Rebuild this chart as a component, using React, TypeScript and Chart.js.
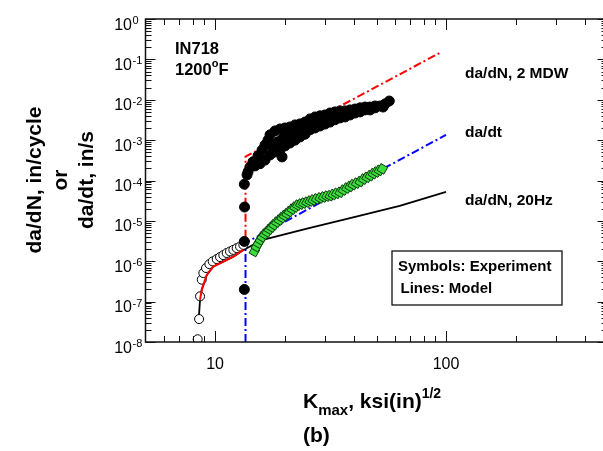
import React, { useEffect, useRef } from "react";
import { Chart, registerables } from "chart.js";
Chart.register(...registerables);

// ---- axis ranges and ticks ----
const X_MIN = 5;
const X_MAX = 500;
const Y_MIN = 1e-8;
const Y_MAX = 1;
const xMajorTicks = [10, 100];
const xMajorLabels = ["10", "100"];
const xMinorTicks = [6, 7, 8, 9, 20, 30, 40, 50, 60, 70, 80, 90, 200, 300, 400];
const yExponents = [0, -1, -2, -3, -4, -5, -6, -7, -8];

// ---- experiment: da/dN at 20 Hz (open circles) ----
const kmax20HzExp = [8.41, 8.53, 8.61, 8.76, 8.9, 9.14, 9.45, 9.77, 10.17, 10.51, 10.86, 11.23, 11.61, 12.0, 12.41, 12.83, 13.26];
const dadN20HzExp = [1.17e-8, 3.7e-8, 1.35e-7, 3.5e-7, 5.1e-7, 6.8e-7, 8.5e-7, 9.9e-7, 1.13e-6, 1.27e-6, 1.42e-6, 1.6e-6, 1.75e-6, 1.91e-6, 2.11e-6, 2.31e-6, 2.55e-6];

// ---- experiment: da/dN, 2 MDW (filled black circles) ----
const kmax2MDWExp = [
  13.39, 13.39, 13.42, 13.39, 13.9, 13.76, 14.18, 14.6, 14.9, 15.35, 15.66, 15.98, 16.46, 16.46, 16.96,
  17.3, 17.3, 17.82, 18.18, 18.18, 18.74, 19.11, 19.11, 19.5, 19.7, 20.09, 20.09, 20.7, 21.12, 21.12,
  21.76, 22.2, 22.2, 22.9, 23.33, 23.33, 24.04, 24.53, 24.53, 25.27, 25.78, 25.78, 26.56, 27.1, 27.1,
  27.92, 28.48, 28.48, 29.35, 29.94, 29.94, 30.84, 31.47, 31.47, 32.42, 33.08, 33.08, 34.07, 34.77, 34.77,
  36.55, 36.55, 37.65, 38.42, 38.42, 40.38, 40.38, 42.45, 42.45, 44.62, 44.62, 46.9, 46.9, 49.3, 49.3,
  51.8, 53.4, 54.5, 56.8,
];
const dadN2MDWExp = [
  2.0e-7, 3.1e-6, 2.2e-5, 8.1e-5, 1.66e-4, 1.38e-4, 2.17e-4, 2.9e-4, 2.3e-4, 4.1e-4, 2.6e-4, 5.7e-4, 3.2e-4, 7.6e-4, 1.0e-3,
  4.3e-4, 1.35e-3, 6.4e-4, 1.69e-3, 5.1e-4, 9.1e-4, 1.89e-3, 5.7e-4, 3.84e-4, 1.12e-3, 2.0e-3, 7.2e-4, 1.34e-3, 2.12e-3, 8.5e-4,
  1.6e-3, 2.38e-3, 1.0e-3, 1.8e-3, 2.52e-3, 1.2e-3, 1.89e-3, 2.8e-3, 1.4e-3, 2.12e-3, 3.35e-3, 1.8e-3, 2.5e-3, 3.75e-3, 2.0e-3,
  3.0e-3, 4.0e-3, 2.24e-3, 3.2e-3, 4.2e-3, 2.5e-3, 3.35e-3, 4.7e-3, 2.8e-3, 3.75e-3, 5.0e-3, 3.2e-3, 4.0e-3, 5.3e-3, 3.55e-3,
  5.3e-3, 3.75e-3, 4.7e-3, 5.6e-3, 4.2e-3, 5.9e-3, 4.7e-3, 6.3e-3, 5.0e-3, 6.6e-3, 5.6e-3, 6.6e-3, 5.6e-3, 7.0e-3, 6.3e-3,
  7.0e-3, 6.6e-3, 7.9e-3, 9.3e-3,
];

// ---- experiment: da/dt (green squares) ----
const kmaxDadtExp = [
  14.8, 15.1, 15.4, 15.7, 16.0, 16.4, 16.8, 17.2, 17.6, 18.0, 18.5, 19.0, 19.5, 20.0, 20.5,
  21.0, 21.6, 22.2, 22.8, 23.5, 24.2, 25.0, 25.8, 26.6, 27.5, 28.5, 29.5, 30.5, 31.5, 32.5,
  33.6, 34.8, 36.0, 37.2, 38.4, 39.6, 41.0, 42.5, 44.0, 45.5, 47.0, 48.5, 50.0, 51.5, 53.0,
];
const dadtExp = [
  1.74e-6, 2.3e-6, 2.8e-6, 3.4e-6, 4.0e-6, 4.7e-6, 5.3e-6, 6.2e-6, 7.0e-6, 8.0e-6, 9.3e-6, 1.05e-5, 1.2e-5, 1.35e-5, 1.5e-5,
  1.7e-5, 1.95e-5, 2.2e-5, 2.45e-5, 2.6e-5, 2.75e-5, 2.9e-5, 3.1e-5, 3.3e-5, 3.5e-5, 3.7e-5, 3.9e-5, 4.1e-5, 4.2e-5, 4.5e-5,
  4.8e-5, 5.1e-5, 5.8e-5, 6.5e-5, 7.1e-5, 7.9e-5, 8.6e-5, 9.4e-5, 1.08e-4, 1.2e-4, 1.32e-4, 1.48e-4, 1.62e-4, 1.78e-4, 1.94e-4,
];

// ---- model lines ----
const kmax20HzModel = [8.5, 8.61, 8.76, 9.2, 9.83, 10.86, 12.0, 13.26, 16.1, 25, 40, 63, 100];
const dadN20HzModel = [3.7e-8, 1.1e-7, 1.96e-7, 4.6e-7, 7.4e-7, 9.8e-7, 1.3e-6, 1.91e-6, 3.4e-6, 6.4e-6, 1.23e-5, 2.35e-5, 5.2e-5];
const kmaxLowModel = [8.61, 8.76, 9.2, 9.83, 10.86, 12.0, 13.26];
const dadNLowModel = [1.1e-7, 1.96e-7, 4.6e-7, 7.4e-7, 9.8e-7, 1.3e-6, 1.91e-6];
const kmax2MDWModel = [13.55, 13.55, 20, 30, 50, 96];
const dadN2MDWModel = [3.8e-6, 3.9e-4, 1.28e-3, 4.4e-3, 2.1e-2, 0.155];
const kmaxDadtModel = [13.55, 13.55, 100];
const dadtModel = [1e-8, 2.85e-6, 1.35e-3];

const FONT = '"Liberation Sans", Arial, Helvetica, sans-serif';

const pts = (xs: number[], ys: number[]) => xs.map((x, i) => ({ x, y: ys[i] }));

function drawRuns(ctx: CanvasRenderingContext2D, x: number, runs: [string, number, number][]) {
  // runs: [text, fontSize, baselineY]
  let cx = x;
  for (const [t, size, by] of runs) {
    ctx.font = `bold ${size}px ${FONT}`;
    ctx.fillText(t, cx, by);
    cx += ctx.measureText(t).width;
  }
}

const framePlugin = {
  id: "framePlugin",
  afterDatasetsDraw(chart: any) {
    const { ctx, chartArea: a, scales } = chart;
    const xs = scales.x;
    const ys = scales.y;
    ctx.save();
    ctx.strokeStyle = "#111";
    ctx.lineWidth = 1;
    ctx.beginPath();
    const vt = (v: number, len: number) => {
      const px = Math.round(xs.getPixelForValue(v)) + 0.5;
      ctx.moveTo(px, a.bottom);
      ctx.lineTo(px, a.bottom - len);
      ctx.moveTo(px, a.top);
      ctx.lineTo(px, a.top + len);
    };
    const ht = (v: number, len: number) => {
      const py = Math.round(ys.getPixelForValue(v)) + 0.5;
      ctx.moveTo(a.left, py);
      ctx.lineTo(a.left + len, py);
      ctx.moveTo(a.right, py);
      ctx.lineTo(a.right - len, py);
    };
    xMajorTicks.forEach((v) => vt(v, 11));
    xMinorTicks.forEach((v) => vt(v, 6));
    yExponents.forEach((e) => ht(Math.pow(10, e), 10));
    yExponents.forEach((e) => {
      if (e === 0) return;
      for (let m = 2; m <= 9; m++) ht(m * Math.pow(10, e), 6);
    });
    ctx.stroke();
    ctx.lineWidth = 1.5;
    ctx.strokeRect(a.left, a.top, a.right - a.left, a.bottom - a.top);
    ctx.restore();
  },
  afterDraw(chart: any) {
    const { ctx, scales } = chart;
    const xs = scales.x;
    const ys = scales.y;
    ctx.save();
    ctx.fillStyle = "#000";
    // x tick labels
    ctx.textAlign = "center";
    ctx.textBaseline = "alphabetic";
    ctx.font = `16px ${FONT}`;
    xMajorTicks.forEach((v, i) => ctx.fillText(xMajorLabels[i], xs.getPixelForValue(v), 368.5));
    // y tick labels 10^e
    yExponents.forEach((e) => {
      const py = ys.getPixelForValue(Math.pow(10, e));
      ctx.textAlign = "right";
      ctx.font = `16px ${FONT}`;
      ctx.fillText("10", 132, py + 10.5);
      ctx.textAlign = "left";
      ctx.font = `11px ${FONT}`;
      ctx.fillText(String(e), 132.5, py + 5);
    });
    // y axis title
    ctx.save();
    ctx.translate(0, 180);
    ctx.rotate(-Math.PI / 2);
    ctx.textAlign = "center";
    ctx.font = `bold 21px ${FONT}`;
    ctx.fillText("da/dN, in/cycle", 0, 40.5);
    ctx.fillText("or", 0, 66.5);
    ctx.fillText("da/dt, in/s", 0, 92.5);
    ctx.restore();
    // x axis title
    ctx.textAlign = "left";
    drawRuns(ctx, 303, [
      ["K", 21, 408],
      ["max", 15, 415],
      [", ksi(in)", 21, 408],
      ["1/2", 14, 398],
    ]);
    drawRuns(ctx, 303, [["(b)", 21, 442]]);
    // annotations
    drawRuns(ctx, 175, [["IN718", 16.5, 53.5]]);
    drawRuns(ctx, 175, [
      ["1200", 16.5, 75],
      ["o", 11, 67],
      ["F", 16.5, 75],
    ]);
    drawRuns(ctx, 465, [["da/dN, 2 MDW", 15.5, 78]]);
    drawRuns(ctx, 465, [["da/dt", 15.5, 136.5]]);
    drawRuns(ctx, 465, [["da/dN, 20Hz", 15.5, 205]]);
    // note box
    ctx.fillStyle = "#fff";
    ctx.fillRect(392, 251, 170, 54);
    ctx.strokeStyle = "#111";
    ctx.lineWidth = 1.3;
    ctx.strokeRect(392, 251, 170, 54);
    ctx.fillStyle = "#000";
    drawRuns(ctx, 398, [["Symbols: Experiment", 15, 271]]);
    drawRuns(ctx, 400.5, [["Lines: Model", 15, 292.5]]);
    ctx.restore();
  },
};

export default function App() {
  const canvasRef = useRef<HTMLCanvasElement | null>(null);

  useEffect(() => {
    const canvas = canvasRef.current;
    if (!canvas) return;
    const chart = new Chart(canvas, {
      type: "scatter",
      data: {
        datasets: [
          {
            label: "da/dN, 2 MDW (experiment)",
            data: pts(kmax2MDWExp, dadN2MDWExp),
            pointStyle: "circle",
            pointRadius: 5,
            backgroundColor: "#000",
            borderColor: "#000",
            borderWidth: 1,
            order: 1,
          },
          {
            label: "da/dt (experiment)",
            data: pts(kmaxDadtExp, dadtExp),
            pointStyle: "rect",
            rotation: 30,
            pointRadius: 5.5,
            backgroundColor: "#3cdc3c",
            borderColor: "#0b3a0b",
            borderWidth: 1,
            order: 2,
          },
          {
            label: "model low",
            data: pts(kmaxLowModel, dadNLowModel),
            showLine: true,
            pointRadius: 0,
            borderColor: "#ff0000",
            borderWidth: 2,
            order: 3,
          },
          {
            label: "da/dN, 20Hz (experiment)",
            data: pts(kmax20HzExp, dadN20HzExp),
            pointStyle: "circle",
            pointRadius: 4.5,
            backgroundColor: "#fff",
            borderColor: "#000",
            borderWidth: 1,
            order: 4,
          },
          {
            label: "da/dN, 20Hz (model)",
            data: pts(kmax20HzModel, dadN20HzModel),
            showLine: true,
            pointRadius: 0,
            borderColor: "#000",
            borderWidth: 1.8,
            order: 5,
          },
          {
            label: "da/dN, 2 MDW (model)",
            data: pts(kmax2MDWModel, dadN2MDWModel),
            showLine: true,
            pointRadius: 0,
            borderColor: "#ff0000",
            borderWidth: 2,
            borderDash: [8, 3, 2, 3],
            order: 6,
          },
          {
            label: "da/dt (model)",
            data: pts(kmaxDadtModel, dadtModel),
            showLine: true,
            pointRadius: 0,
            borderColor: "#0000ff",
            borderWidth: 2,
            borderDash: [8, 3, 2, 3],
            order: 7,
          },
        ],
      },
      options: {
        animation: false,
        responsive: false,
        devicePixelRatio: 1,
        layout: { padding: { left: 145.5, right: 7.5, top: 19, bottom: 109 } },
        plugins: { legend: { display: false }, tooltip: { enabled: false } },
        scales: {
          x: { type: "logarithmic", min: X_MIN, max: X_MAX, display: false },
          y: { type: "logarithmic", min: Y_MIN, max: Y_MAX, display: false },
        },
      },
      plugins: [framePlugin],
    });
    return () => chart.destroy();
  }, []);

  return (
    <div
      style={{
        position: "fixed",
        left: 0,
        top: 0,
        width: 603,
        height: 451,
        overflow: "hidden",
        background: "#fff",
      }}
    >
      <canvas ref={canvasRef} width={615} height={451} style={{ display: "block" }} />
    </div>
  );
}
